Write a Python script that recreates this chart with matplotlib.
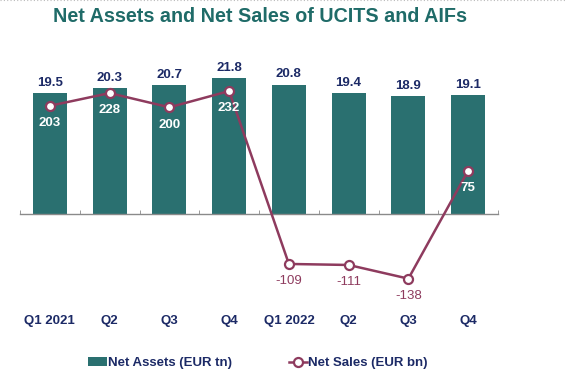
import matplotlib
matplotlib.use("Agg")
import matplotlib.pyplot as plt
from matplotlib.patches import Patch
from matplotlib.lines import Line2D

categories = ["Q1 2021", "Q2", "Q3", "Q4", "Q1 2022", "Q2", "Q3", "Q4"]
net_assets = [19.5, 20.3, 20.7, 21.8, 20.8, 19.4, 18.9, 19.1]
net_sales = [203, 228, 200, 232, -109, -111, -138, 75]

BAR = "#2a7070"
LINE = "#8e3b5e"
NAVY = "#1c2a66"
TEAL_T = "#1f6b68"
plt.rcParams["font.family"] = ["Liberation Sans", "DejaVu Sans"]

W, H = 567, 378
fig = plt.figure(figsize=(W / 100, H / 100), dpi=100)
ax_l, ax_r, ax_t, ax_b = 20, 498, 60, 300
ax = fig.add_axes([ax_l / W, 1 - ax_b / H, (ax_r - ax_l) / W, (ax_b - ax_t) / H])
x = list(range(len(categories)))

ax.bar(x, net_assets, width=0.57, color=BAR, zorder=2)
ax.set_xlim(-0.5, len(categories) - 0.5)
ax.set_ylim(-13.83, 24.76)
for xi, v in zip(x, net_assets):
    ax.annotate(f"{v:.1f}", (xi, v), xytext=(0, 3), textcoords="offset points",
                ha="center", va="bottom", fontsize=9.5, fontweight="bold", color=NAVY)

for s in ["top", "left", "right"]:
    ax.spines[s].set_visible(False)
ax.spines["bottom"].set_position(("data", 0))
ax.spines["bottom"].set_color("#8a8a8a")
ax.spines["bottom"].set_linewidth(1.0)
ax.set_yticks([])
ax.set_xticks(x)
ax.set_xticklabels(categories, fontsize=9.5, fontweight="bold", color=NAVY)
ax.set_xticks([i - 0.5 for i in range(len(categories) + 1)], minor=True)
ax.tick_params(axis="x", which="major", length=0, pad=73)
ax.tick_params(axis="x", which="minor", direction="in", length=3, color="#8a8a8a")

ax2 = ax.twinx()
ax2.set_ylim(-180.1, 293.3)
ax2.plot(x, net_sales, color=LINE, lw=1.8, marker="o", markersize=6.5,
         markerfacecolor="white", markeredgecolor=LINE, markeredgewidth=1.6, zorder=3)
for xi, v in zip(x, net_sales):
    if v >= 0:
        ax2.annotate(f"{v}", (xi, v), xytext=(0, -12.5), textcoords="offset points",
                     ha="center", va="center", fontsize=9.5, fontweight="bold", color="white")
    else:
        ax2.annotate(f"{v}", (xi, v), xytext=(0, -12.5), textcoords="offset points",
                     ha="center", va="center", fontsize=9.5, color=LINE)
ax2.axis("off")

fig.text(260 / W, 1 - 16 / H, "Net Assets and Net Sales of UCITS and AIFs",
         ha="center", va="center", fontsize=14.2, fontweight="bold", color=TEAL_T)

handles = [Patch(facecolor=BAR, edgecolor="none"),
           Line2D([0], [0], color=LINE, lw=1.8, marker="o", markersize=6.5,
                  markerfacecolor="white", markeredgecolor=LINE, markeredgewidth=1.6)]
fig.legend(handles, ["Net Assets (EUR tn)", "Net Sales (EUR bn)"],
           loc="center", bbox_to_anchor=(258 / W, 1 - 363 / H), ncol=2, frameon=False,
           prop={"size": 9.5, "weight": "bold"}, labelcolor=NAVY,
           handlelength=1.4, handleheight=0.6, handletextpad=0.1, columnspacing=4.3)

fig.add_artist(Line2D([0, 1], [0.999, 0.999], transform=fig.transFigure,
                      color="#bbbbbb", lw=0.8, ls=(0, (1, 2))))

fig.savefig("out.png", dpi=100)
